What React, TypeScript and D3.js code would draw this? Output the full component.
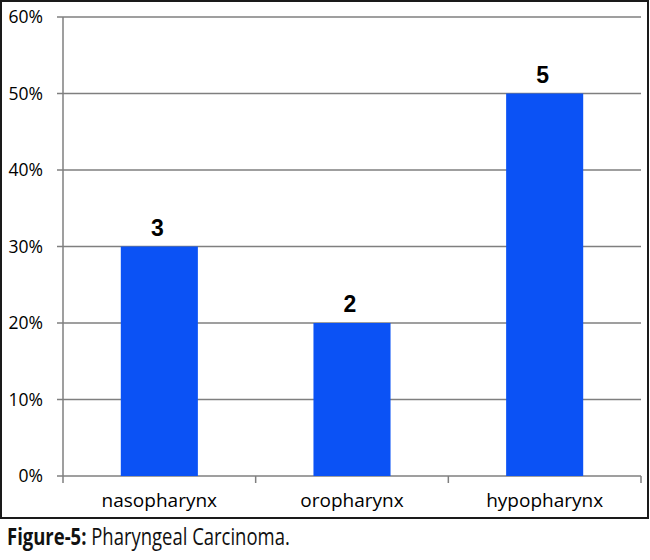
import React from "react";
import * as d3 from "d3";

const categories = ["nasopharynx", "oropharynx", "hypopharynx"];
const percents = [0.3, 0.2, 0.5];
const counts = [3, 2, 5];
const yTicks = [0, 0.1, 0.2, 0.3, 0.4, 0.5, 0.6];

const W = 650;
const H = 560;
const plot = { left: 63, right: 641, top: 17, bottom: 476 };

export default function App() {
  const x = d3
    .scaleBand<string>()
    .domain(categories)
    .range([plot.left, plot.right])
    .paddingInner(0.6)
    .paddingOuter(0.3);
  const y = d3.scaleLinear().domain([0, 0.6]).range([plot.bottom, plot.top]);
  const step = x.step();
  const fmt = d3.format(".0%");
  const grid = "#7f7f7f";
  const font = "'Open Sans', sans-serif";

  const boundaries = categories.map((_, i) => plot.left + step * (i + 1));

  return (
    <svg
      width={W}
      height={H}
      style={{ position: "absolute", left: 0, top: 0, background: "#fff" }}
    >
      <rect x={1} y={1} width={647} height={517} fill="#fff" stroke="#1a1a1a" strokeWidth={2} />
      {yTicks.map((t) => (
        <g key={t}>
          <line
            x1={plot.left - 6}
            x2={plot.right}
            y1={y(t)}
            y2={y(t)}
            stroke={grid}
            strokeWidth={1.5}
          />
          <text
            x={43}
            y={y(t)}
            dy="0.36em"
            textAnchor="end"
            fontFamily={font}
            fontSize={17.5}
            fontWeight={500}
            fill="#000"
          >
            {fmt(t)}
          </text>
        </g>
      ))}
      {categories.map((c, i) => (
        <g key={c}>
          <rect
            x={x(c)}
            y={y(percents[i])}
            width={x.bandwidth()}
            height={y(0) - y(percents[i])}
            fill="#0b52f5"
          />
          <text
            x={(x(c) as number) + x.bandwidth() / 2 - 2}
            y={y(percents[i]) - 11}
            textAnchor="middle"
            fontFamily="'Liberation Sans', Arial, sans-serif"
            fontWeight="bold"
            fontSize={23}
            fill="#000"
          >
            {counts[i]}
          </text>
          <text
            x={(x(c) as number) + x.bandwidth() / 2}
            y={500}
            dy="0.36em"
            textAnchor="middle"
            fontFamily={font}
            fontSize={19}
            fontWeight={500}
            fill="#000"
          >
            {c}
          </text>
        </g>
      ))}
      <line x1={plot.left} x2={plot.left} y1={plot.top} y2={plot.bottom + 7} stroke={grid} strokeWidth={1.5} />
      {boundaries.map((b) => (
        <line key={b} x1={b} x2={b} y1={plot.bottom} y2={plot.bottom + 7} stroke={grid} strokeWidth={1.5} />
      ))}
      <g transform="translate(7,545) scale(0.77,1)">
        <text
          x={0}
          y={0}
          fontFamily="'Open Sans', 'DejaVu Sans', sans-serif"
          fontSize={24}
          fill="#111"
        >
          <tspan fontWeight="bold">Figure-5:</tspan> Pharyngeal Carcinoma.
        </text>
      </g>
    </svg>
  );
}
